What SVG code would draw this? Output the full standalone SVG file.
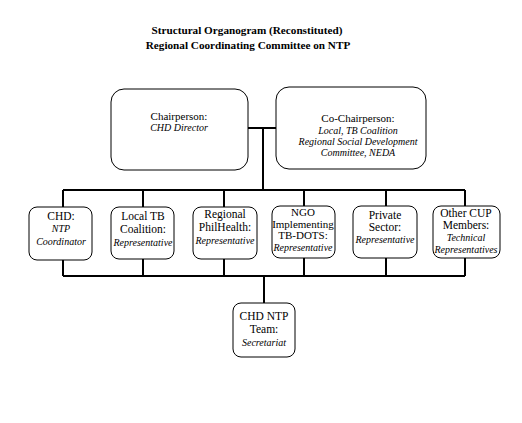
<svg xmlns="http://www.w3.org/2000/svg" width="522" height="423" viewBox="0 0 522 423">
<style>
text{font-family:"Liberation Serif","Times New Roman",serif;fill:#000;text-anchor:middle}
.t{font-size:11.2px;font-weight:bold}
.r{font-size:11px}
.s{font-size:11.5px}
.i{font-size:10px;font-style:italic}
.n{fill:#fff;stroke:#000;stroke-width:1}
.c{fill:none;stroke:#000;stroke-width:2}
</style>
<rect width="522" height="423" fill="#fff"/>
<g id="title">
<text class="t" x="247" y="34">Structural Organogram (Reconstituted)</text>
<text class="t" x="248" y="49">Regional Coordinating Committee on NTP</text>
</g>
<g id="connectors">
<path class="c" d="M248 128H276M263 128V190M63 190H465M63 190V207M143 190V207M224 190V207M304 190V206M386 190V206M465 190V206"/>
<path class="c" d="M63 260V276M143 259V276M224 259V276M304 258V276M386 258V276M465 258V276M63 276H465M264 276V303"/>
</g>
<g id="chair">
<rect class="n" x="111" y="89" width="137" height="81" rx="13"/>
<text class="r" x="179" y="120">Chairperson:</text>
<text class="i" x="179" y="131">CHD Director</text>
</g>
<g id="cochair">
<rect class="n" x="276" y="87" width="150" height="82" rx="13"/>
<text class="r" x="358" y="122">Co-Chairperson:</text>
<text class="i" x="358" y="134">Local, TB Coalition</text>
<text class="i" x="358" y="145">Regional Social Development</text>
<text class="i" x="358" y="156">Committee, NEDA</text>
</g>
<g id="chd">
<rect class="n" x="29" y="207" width="63" height="53" rx="8"/>
<text class="s" x="61" y="220">CHD:</text>
<text class="i" x="61" y="232">NTP</text>
<text class="i" x="61" y="245">Coordinator</text>
</g>
<g id="localtb">
<rect class="n" x="111" y="207" width="63" height="52" rx="8"/>
<text class="s" x="143" y="220">Local TB</text>
<text class="s" x="143" y="233">Coalition:</text>
<text class="i" x="143" y="246">Representative</text>
</g>
<g id="philhealth">
<rect class="n" x="193" y="207" width="64" height="52" rx="8"/>
<text class="s" x="225" y="218">Regional</text>
<text class="s" x="225" y="231">PhilHealth:</text>
<text class="i" x="225" y="244">Representative</text>
</g>
<g id="ngo">
<rect class="n" x="272" y="206" width="63" height="52" rx="8"/>
<text class="r" x="303" y="216">NGO</text>
<text class="r" x="303" y="228">Implementing</text>
<text class="r" x="303" y="239">TB-DOTS:</text>
<text class="i" x="303" y="251">Representative</text>
</g>
<g id="private">
<rect class="n" x="353" y="206" width="64" height="52" rx="8"/>
<text class="s" x="385" y="219">Private</text>
<text class="s" x="385" y="231">Sector:</text>
<text class="i" x="385" y="243">Representative</text>
</g>
<g id="othercup">
<rect class="n" x="433" y="206" width="67" height="52" rx="8"/>
<text class="s" x="466" y="217">Other CUP</text>
<text class="s" x="466" y="229">Members:</text>
<text class="i" x="466" y="241">Technical</text>
<text class="i" x="466" y="253">Representatives</text>
</g>
<g id="secretariat">
<rect class="n" x="233" y="303" width="62" height="54" rx="8"/>
<text class="s" x="264" y="320">CHD NTP</text>
<text class="s" x="264" y="333">Team:</text>
<text class="i" x="264" y="346">Secretariat</text>
</g>
</svg>
